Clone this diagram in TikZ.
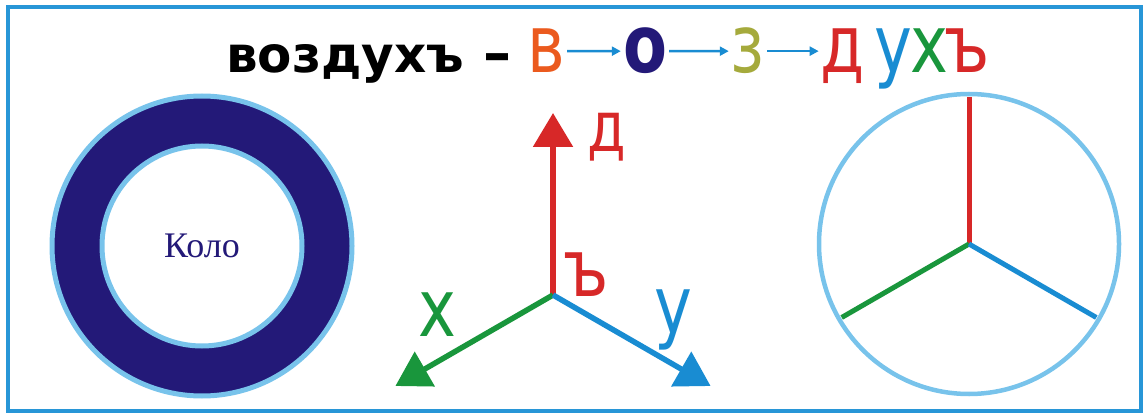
\documentclass[tikz,border=0pt]{standalone}
\usepackage{fontspec}
\setmainfont{DejaVu Sans}
\newfontfamily\slavfont[FakeStretch=0.8]{DejaVu Sans}
\newfontfamily\kolofont{Liberation Serif}
\usetikzlibrary{arrows.meta,calc}

\definecolor{frameblue}{RGB}{40,150,215}
\definecolor{lightring}{RGB}{120,195,235}
\definecolor{koloblue}{RGB}{35,25,120}
\definecolor{axred}{RGB}{215,40,40}
\definecolor{axgreen}{RGB}{25,150,60}
\definecolor{axblue}{RGB}{25,140,210}
\definecolor{vorange}{RGB}{235,90,30}
\definecolor{zolive}{RGB}{165,170,60}

\begin{document}
\begin{tikzpicture}
        [x=1pt,y=-1pt,
        every node/.style={inner sep=2pt},
        bigletter/.style={font=\slavfont\fontsize{80}{80}\selectfont, anchor=base},
        axletter/.style={font=\slavfont\fontsize{80}{80}\selectfont},
        smallarrow/.style={axblue, line width=2.5pt, -{Triangle[length=9pt,width=9pt]}},
        axis/.style={line width=5.5pt, -{Triangle[length=34pt,width=39pt]}},
        spoke/.style={line width=5pt},
        ]
        \useasboundingbox (0,0) rectangle (1145,414);
        \draw[frameblue, line width=3.5pt] (8,7) rectangle (1141,411);

        % title
        \node[font=\bfseries\fontsize{50}{50}\selectfont, anchor=base] (word) at (345,73) {воздухъ};
        \node[font=\bfseries\fontsize{56}{56}\selectfont, anchor=base] (dash) at (497,73) {–};
        \node[bigletter, vorange] (lv) at (546,73) {в};
        \node[bigletter, koloblue, font=\slavfont\bfseries\fontsize{80}{80}\selectfont] (lo) at (645,73) {о};
        \node[bigletter, zolive] (lz) at (748,73) {з};
        \node[bigletter, axred] (ld) at (843,73) {д};
        \node[bigletter, axblue] (lu) at (893,73) {у};
        \node[bigletter, axgreen] (lh) at (929,73) {х};
        \node[bigletter, axred] (lhard) at (967,73) {ъ};
        \draw[smallarrow] (lv.east) -- (lo.west);
        \draw[smallarrow] (lo.east) -- (lz.west);
        \draw[smallarrow] (lz.east) -- (lz.east -| ld.west);

        % kolo ring
        \coordinate (ring) at (202,246);
        \fill[koloblue] (ring) circle (150pt);
        \draw[lightring, line width=5pt] (ring) circle (150pt);
        \fill[white] (ring) circle (100pt);
        \draw[lightring, line width=5pt] (ring) circle (100pt);
        \node[font=\kolofont\fontsize{36}{36}\selectfont, koloblue] (kolo) at (ring) {Коло};

        % axes
        \coordinate (o) at (553,295);
        \coordinate (up) at ($(o)+(90:182pt)$);
        \coordinate (left) at ($(o)+(210:182pt)$);
        \coordinate (right) at ($(o)+(330:182pt)$);
        \draw[axis, axred] (o) -- (up);
        \draw[axis, axgreen] (o) -- (left);
        \draw[axis, axblue] (o) -- (right);
        \node[axletter, axred, font=\slavfont\fontsize{70}{70}\selectfont] (labd) at (607,137) {д};
        \node[axletter, axred] (labhard) at (586,275) {ъ};
        \node[axletter, axgreen] (labh) at (437,315) {х};
        \node[axletter, axblue] (labu) at (673,320) {у};

        % wheel
        \coordinate (c) at (969,244);
        \draw[lightring, line width=4.5pt] (c) circle (150pt);
        \draw[spoke, axred] (c) -- ($(c)+(90:147pt)$);
        \draw[spoke, axgreen] (c) -- ($(c)+(210:147pt)$);
        \draw[spoke, axblue] (c) -- ($(c)+(330:147pt)$);
        \end{tikzpicture}
\end{document}
